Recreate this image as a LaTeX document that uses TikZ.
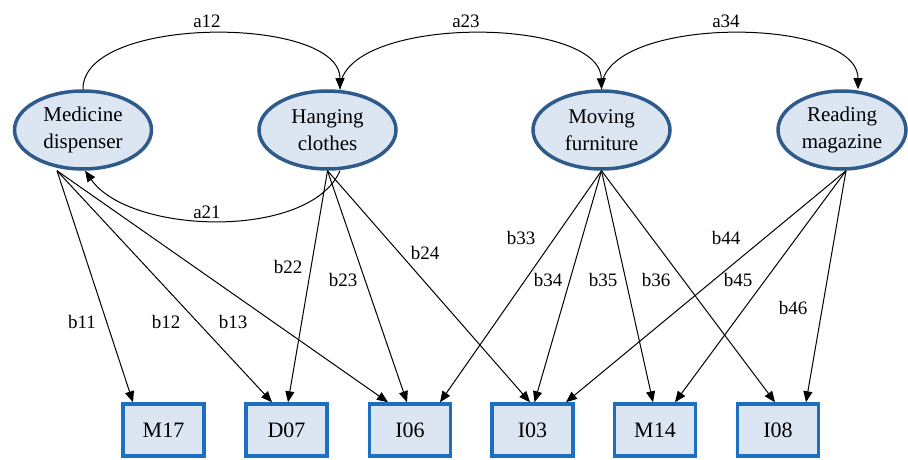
\documentclass[tikz,border=0pt]{standalone}
\usepackage{fontspec}
\setmainfont{Liberation Serif}
\usetikzlibrary{arrows.meta,shapes.geometric}
\definecolor{efill}{HTML}{DCE6F2}
\definecolor{edraw}{HTML}{2F5B8C}
\definecolor{bdraw}{HTML}{1D6FC0}
\begin{document}
\begin{tikzpicture}[x=1pt,y=-1pt,
  latent/.style={ellipse,draw=edraw,fill=efill,line width=3.5pt,minimum width=137pt,minimum height=78pt,inner sep=0pt,align=center,font=\fontsize{21}{27}\selectfont},
  obs/.style={rectangle,draw=bdraw,fill=efill,line width=3.5pt,minimum width=81pt,minimum height=52pt,inner sep=0pt,font=\fontsize{22}{24}\selectfont},
  arr/.style={line width=1pt,-{Triangle[length=11pt,width=9pt]}},
  lbl/.style={font=\fontsize{19}{22}\selectfont,inner sep=1pt}]
\useasboundingbox (0,0) rectangle (908,460);
\node[latent] (med) at (83,130) {Medicine\\dispenser};
\node[latent] (hang) at (327.5,130) {Hanging\\clothes};
\node[latent] (mov) at (601.5,130) {Moving\\furniture};
\node[latent,minimum width=128pt] (read) at (842,130) {Reading\\magazine};
\node[obs] (m17) at (163.5,430) {M17};
\node[obs] (d07) at (286.5,430) {D07};
\node[obs] (i06) at (410,430) {I06};
\node[obs] (i03) at (532.5,430) {I03};
\node[obs] (m14) at (655,430) {M14};
\node[obs] (i08) at (778,430) {I08};
% a-paths
\draw[arr] (med.north) .. controls (82,15) and (340,15) .. ([xshift=12.5pt]hang.north);
\draw[arr] ([xshift=12.5pt]hang.north) .. controls (340,15) and (600,15) .. (mov.north);
\draw[arr] (mov.north) .. controls (600,15) and (858,15) .. ([xshift=16pt]read.north);
\draw[arr] ([xshift=12.5pt]hang.south) .. controls (310,240) and (130,235) .. ([xshift=2pt]med.south);
\node[lbl] (la12) at (207,21) {a12};
\node[lbl] (la23) at (466,21) {a23};
\node[lbl] (la34) at (726,21) {a34};
\node[lbl] (la21) at (207,212) {a21};
% b-paths
\draw[arr] ([xshift=-26pt]med.south) -- ([xshift=-30.5pt]m17.north);
\draw[arr] ([xshift=-26pt]med.south) -- ([xshift=-14.5pt]d07.north);
\draw[arr] ([xshift=-26pt]med.south) -- ([xshift=-22pt]i06.north);
\draw[arr] (hang.south) -- ([xshift=1.5pt]d07.north);
\draw[arr] (hang.south) -- ([xshift=-3pt]i06.north);
\draw[arr] (hang.south) -- ([xshift=-2.5pt]i03.north);
\draw[arr] (mov.south) -- ([xshift=30pt]i06.north);
\draw[arr] (mov.south) -- ([xshift=2pt]i03.north);
\draw[arr] (mov.south) -- ([xshift=-2pt]m14.north);
\draw[arr] (mov.south) -- ([xshift=-3pt]i08.north);
\draw[arr] ([xshift=4pt]read.south) -- ([xshift=33.5pt]i03.north);
\draw[arr] ([xshift=4pt]read.south) -- ([xshift=20pt]m14.north);
\draw[arr] ([xshift=4pt]read.south) -- ([xshift=28pt]i08.north);
\node[lbl] (lb11) at (82,322) {b11};
\node[lbl] (lb12) at (166,322) {b12};
\node[lbl] (lb13) at (233,322) {b13};
\node[lbl] (lb22) at (288,267) {b22};
\node[lbl] (lb23) at (343,280) {b23};
\node[lbl] (lb24) at (425,253) {b24};
\node[lbl] (lb33) at (521,238) {b33};
\node[lbl] (lb34) at (548,280) {b34};
\node[lbl] (lb35) at (603,280) {b35};
\node[lbl] (lb36) at (656,280) {b36};
\node[lbl] (lb44) at (726,238) {b44};
\node[lbl] (lb45) at (738,280) {b45};
\node[lbl] (lb46) at (793,308) {b46};
\end{tikzpicture}
\end{document}
